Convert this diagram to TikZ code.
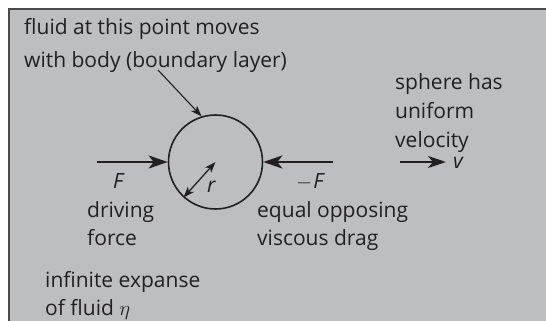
\documentclass[tikz,border=0pt]{standalone}
\usepackage{fontspec}
\setmainfont{Open Sans}
\usetikzlibrary{arrows.meta}
\definecolor{bg}{HTML}{BDBEC2}
\definecolor{ink}{HTML}{231F20}
\definecolor{frame}{HTML}{4A4A4C}
\begin{document}
\begin{tikzpicture}[x=1pt,y=-1pt,
  lbl/.style={anchor=base west, inner sep=0pt, text=ink, font=\fontsize{21}{23}\selectfont},
  force/.style={draw=ink, line width=2.6pt, -{Stealth[length=19pt,width=13pt,inset=5pt]}},
  vel/.style={draw=ink, line width=2.4pt, -{Stealth[length=18pt,width=12pt,inset=5pt]}},
  radius/.style={draw=ink, line width=1.3pt, {Stealth[length=11pt,width=8pt,inset=3pt]}-{Stealth[length=11pt,width=8pt,inset=3pt]}},
  pointer/.style={draw=ink, line width=1.1pt, -{Stealth[length=11pt,width=8pt,inset=3pt]}}]
\useasboundingbox (0,0) rectangle (546,321);
\fill[bg] (8,8) rectangle (546,321);
\draw[frame, line width=1.6pt] (8.8,321) -- (8.8,8.8) -- (546,8.8);
% sphere
\node[circle, draw=ink, line width=1.6pt, minimum size=94pt, inner sep=0pt] (sph) at (215.5,162) {};
% forces
\coordinate (fa) at (97,162);
\coordinate (fb) at (333,162);
\draw[force] (fa) -- (sph.west);
\draw[force] (fb) -- (sph.east);
\draw[radius] (sph.228) -- (sph.center);
% pointer
\coordinate (p0) at (158,70);
\draw[pointer] (p0) -- (sph.107);
% velocity
\coordinate (va) at (400,162);
\coordinate (vb) at (446,162);
\draw[vel] (va) -- (vb);
% labels
\node[lbl] (t1) at (24,35) {fluid at this point moves};
\node[lbl] (t2) at (24,67) {with body (boundary layer)};
\node[lbl] (s1) at (395,89) {sphere has};
\node[lbl] (s2) at (395,118) {uniform};
\node[lbl] (s3) at (395,147) {velocity};
\node[lbl] (vl) at (453,168) {\itshape v};
\node[lbl] (fl) at (113,188) {\itshape F};
\node[lbl] (mfl) at (296,188) {$-$\kern1pt\itshape F};
\node[lbl] (rl) at (207,192) {\itshape r};
\node[lbl] (d1) at (87,217) {driving};
\node[lbl] (d2) at (87,245) {force};
\node[lbl] (e1) at (257,217) {equal opposing};
\node[lbl] (e2) at (257,245) {viscous drag};
\node[lbl] (i1) at (45,287) {infinite expanse};
\node[lbl] (i2) at (45,315) {of fluid $\eta$};
\end{tikzpicture}
\end{document}
